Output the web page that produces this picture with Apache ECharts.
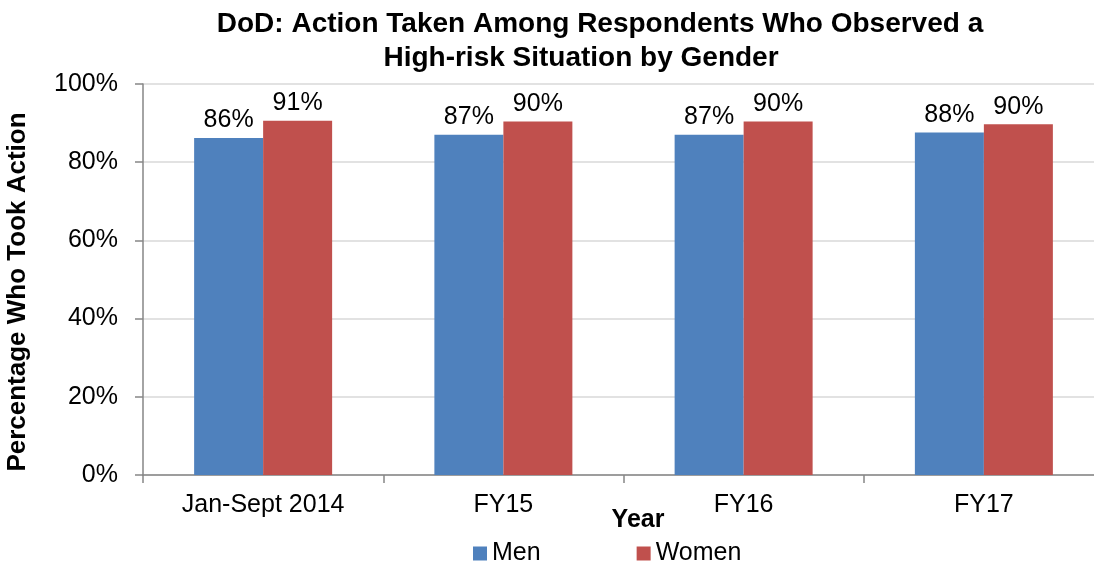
<!DOCTYPE html>
<html>
<head>
<meta charset="utf-8">
<script src="https://cdn.jsdelivr.net/npm/echarts@6/dist/echarts.min.js"></script>
<style>
  html, body { margin: 0; padding: 0; background: #fff; }
  #chart { width: 1094px; height: 567px; }
</style>
</head>
<body>
<div id="chart"></div>
<script>
var categories = ['Jan-Sept 2014', 'FY15', 'FY16', 'FY17'];
var menValues = [86.2, 87.0, 87.0, 87.6];
var womenValues = [90.6, 90.4, 90.4, 89.7];
var yTicks = [0, 20, 40, 60, 80, 100];

var font = '"Liberation Sans", Arial, sans-serif';
var chart = echarts.init(document.getElementById('chart'));

var barLabel = {
    show: true,
    position: 'top',
    distance: 5,
    color: '#000',
    fontFamily: font,
    fontSize: 25,
    formatter: function (p) {
        return Math.round(p.value) + '%';
    }
};

var options = {
    animation: false,
    title: [
        {
            text: 'DoD: Action Taken Among Respondents Who Observed a',
            left: 595,
            top: 5,
            textAlign: 'center',
            textStyle: { fontFamily: font, fontSize: 28, fontWeight: 'bold', color: '#000' }
        },
        {
            text: 'High-risk Situation by Gender',
            left: 576,
            top: 39,
            textAlign: 'center',
            textStyle: { fontFamily: font, fontSize: 28, fontWeight: 'bold', color: '#000' }
        },
        {
            // x axis name sits off centre in the original
            text: 'Year',
            left: 633,
            top: 503,
            textAlign: 'center',
            textStyle: { fontFamily: font, fontSize: 25, fontWeight: 'bold', color: '#000' }
        }
    ],
    legend: {
        data: ['Men', 'Women'],
        left: 468,
        top: 536,
        itemWidth: 14,
        itemHeight: 14,
        itemGap: 96,
        icon: 'rect',
        textStyle: { fontFamily: font, fontSize: 25, color: '#000' }
    },
    grid: {
        left: 143,
        top: 84,
        width: 961,
        height: 391,
        outerBoundsMode: 'none'
    },
    xAxis: {
        type: 'category',
        data: categories,
        axisLine: { lineStyle: { color: '#868686', width: 1.5 } },
        axisTick: { show: true, length: 8, lineStyle: { color: '#868686', width: 1.5 } },
        axisLabel: { color: '#000', fontFamily: font, fontSize: 25, margin: 18 }
    },
    yAxis: {
        type: 'value',
        min: yTicks[0],
        max: yTicks[yTicks.length - 1],
        interval: 20,
        name: 'Percentage Who Took Action',
        nameLocation: 'middle',
        nameGap: 112,
        nameTextStyle: {
            fontFamily: font, fontSize: 26, fontWeight: 'bold', color: '#000',
            padding: [0, 25, 0, 0]
        },
        axisLine: { show: true, lineStyle: { color: '#868686', width: 1.5 } },
        axisTick: { show: true, length: 8, lineStyle: { color: '#868686', width: 1.5 } },
        axisLabel: {
            color: '#000', fontFamily: font, fontSize: 25, margin: 25,
            formatter: '{value}%'
        },
        splitLine: { lineStyle: { color: '#d9d9d9', width: 1.5 } }
    },
    series: [
        {
            name: 'Men',
            type: 'bar',
            data: menValues,
            barWidth: 69,
            barGap: '0%',
            itemStyle: { color: '#4f81bd' },
            label: barLabel
        },
        {
            name: 'Women',
            type: 'bar',
            data: womenValues,
            barWidth: 69,
            itemStyle: { color: '#c0504d' },
            label: barLabel
        }
    ]
};
chart.setOption(options);
</script>
</body>
</html>
